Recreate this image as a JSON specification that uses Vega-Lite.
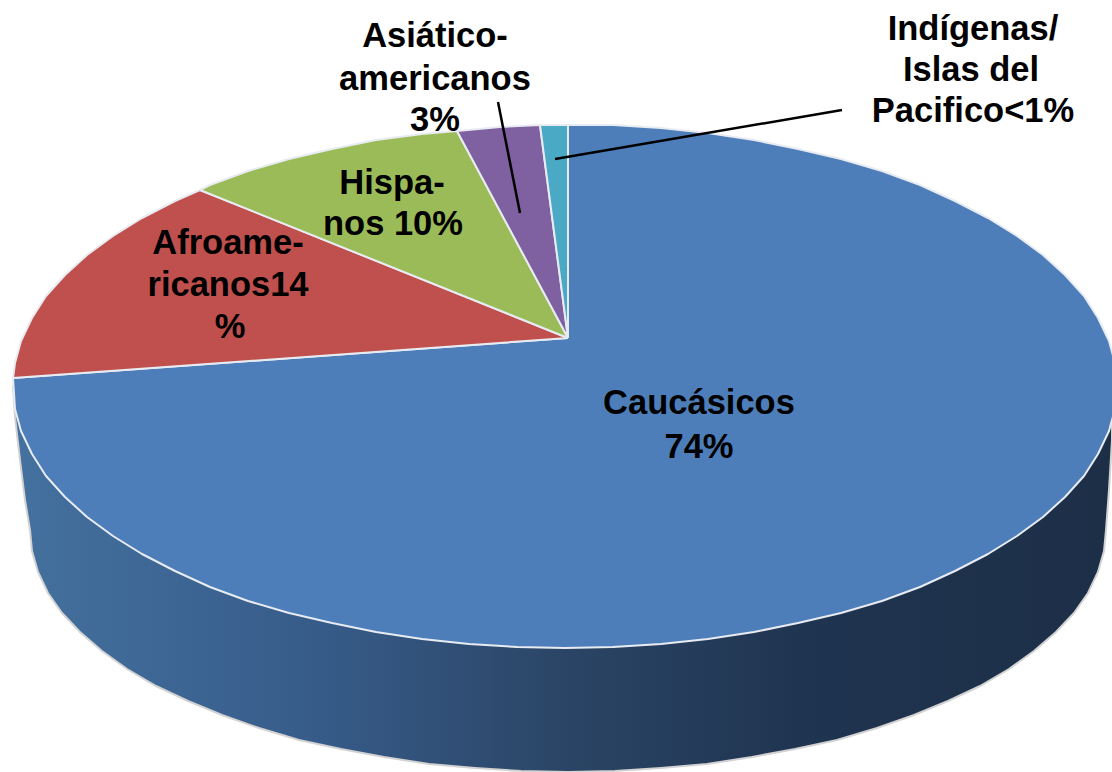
{"$schema":"https://vega.github.io/schema/vega-lite/v6.json","width":1112,"height":772,"padding":0,"autosize":{"type":"none"},"background":"white","config":{"view":{"stroke":null}},
"layer":[
{"data":{"name":"side","values":[{"x":13,"y":386},{"x":15,"y":417},{"x":20,"y":460},{"x":25,"y":500},{"x":30,"y":530},{"x":32,"y":551},{"x":38,"y":572},{"x":48,"y":593},{"x":62,"y":613},{"x":80,"y":632},{"x":102,"y":651},{"x":127,"y":669},{"x":156,"y":686},{"x":188,"y":701},{"x":222,"y":715},{"x":259,"y":728},{"x":299,"y":740},{"x":341,"y":749},{"x":384,"y":757},{"x":429,"y":764},{"x":475,"y":768},{"x":521,"y":771},{"x":568,"y":772},{"x":615,"y":771},{"x":661,"y":768},{"x":707,"y":764},{"x":752,"y":757},{"x":795,"y":749},{"x":837,"y":740},{"x":877,"y":728},{"x":914,"y":715},{"x":948,"y":701},{"x":980,"y":686},{"x":1009,"y":669},{"x":1034,"y":651},{"x":1056,"y":632},{"x":1074,"y":613},{"x":1088,"y":593},{"x":1098,"y":572},{"x":1104,"y":551},{"x":1106,"y":530},{"x":1109,"y":490},{"x":1112,"y":440}]},
"mark":{"type":"area","orient":"vertical","clip":true,"stroke":"#d2d2d2","strokeWidth":2,"color":{"gradient":"linear","x1":0,"x2":1,"y1":0,"y2":0,"stops":[{"offset":0,"color":"#44719f"},{"offset":0.27,"color":"#375c8a"},{"offset":0.5,"color":"#2b4566"},{"offset":0.72,"color":"#1f3450"},{"offset":1,"color":"#1d2f47"}]}},
"encoding":{"x":{"field":"x","type":"quantitative","scale":{"domain":[0,1112]},"axis":null},"y":{"field":"y","type":"quantitative","scale":{"domain":[772,0]},"axis":null},"y2":{"datum":386}}},
{"data":{"name":"slices","values":[
{"s":"Caucásicos","x":568,"y":338},{"s":"Caucásicos","x":568,"y":125},{"s":"Caucásicos","x":613,"y":125},{"s":"Caucásicos","x":661,"y":128},{"s":"Caucásicos","x":708,"y":133},{"s":"Caucásicos","x":754,"y":140},{"s":"Caucásicos","x":798,"y":149},{"s":"Caucásicos","x":841,"y":159},{"s":"Caucásicos","x":882,"y":171},{"s":"Caucásicos","x":920,"y":185},{"s":"Caucásicos","x":955,"y":201},{"s":"Caucásicos","x":988,"y":218},{"s":"Caucásicos","x":1017,"y":236},{"s":"Caucásicos","x":1043,"y":255},{"s":"Caucásicos","x":1065,"y":275},{"s":"Caucásicos","x":1084,"y":296},{"s":"Caucásicos","x":1098,"y":318},{"s":"Caucásicos","x":1109,"y":341},{"s":"Caucásicos","x":1115,"y":363},{"s":"Caucásicos","x":1117,"y":386},{"s":"Caucásicos","x":1115,"y":409},{"s":"Caucásicos","x":1109,"y":431},{"s":"Caucásicos","x":1098,"y":454},{"s":"Caucásicos","x":1084,"y":476},{"s":"Caucásicos","x":1065,"y":497},{"s":"Caucásicos","x":1043,"y":517},{"s":"Caucásicos","x":1017,"y":536},{"s":"Caucásicos","x":988,"y":554},{"s":"Caucásicos","x":955,"y":571},{"s":"Caucásicos","x":920,"y":587},{"s":"Caucásicos","x":882,"y":601},{"s":"Caucásicos","x":841,"y":613},{"s":"Caucásicos","x":798,"y":623},{"s":"Caucásicos","x":754,"y":632},{"s":"Caucásicos","x":708,"y":639},{"s":"Caucásicos","x":661,"y":644},{"s":"Caucásicos","x":613,"y":647},{"s":"Caucásicos","x":565,"y":648},{"s":"Caucásicos","x":517,"y":647},{"s":"Caucásicos","x":469,"y":644},{"s":"Caucásicos","x":422,"y":639},{"s":"Caucásicos","x":376,"y":632},{"s":"Caucásicos","x":332,"y":623},{"s":"Caucásicos","x":289,"y":613},{"s":"Caucásicos","x":248,"y":601},{"s":"Caucásicos","x":210,"y":587},{"s":"Caucásicos","x":175,"y":571},{"s":"Caucásicos","x":142,"y":554},{"s":"Caucásicos","x":113,"y":536},{"s":"Caucásicos","x":87,"y":517},{"s":"Caucásicos","x":65,"y":497},{"s":"Caucásicos","x":46,"y":476},{"s":"Caucásicos","x":32,"y":454},{"s":"Caucásicos","x":21,"y":431},{"s":"Caucásicos","x":15,"y":409},{"s":"Caucásicos","x":13,"y":378},{"s":"Caucásicos","x":568,"y":338},
{"s":"Afroamericanos","x":568,"y":338},{"s":"Afroamericanos","x":13,"y":378},{"s":"Afroamericanos","x":15,"y":363},{"s":"Afroamericanos","x":21,"y":341},{"s":"Afroamericanos","x":32,"y":318},{"s":"Afroamericanos","x":46,"y":296},{"s":"Afroamericanos","x":65,"y":275},{"s":"Afroamericanos","x":87,"y":255},{"s":"Afroamericanos","x":113,"y":236},{"s":"Afroamericanos","x":142,"y":218},{"s":"Afroamericanos","x":175,"y":201},{"s":"Afroamericanos","x":200,"y":190},{"s":"Afroamericanos","x":568,"y":338},
{"s":"Hispanos","x":568,"y":338},{"s":"Hispanos","x":200,"y":190},{"s":"Hispanos","x":210,"y":185},{"s":"Hispanos","x":248,"y":171},{"s":"Hispanos","x":289,"y":159},{"s":"Hispanos","x":332,"y":149},{"s":"Hispanos","x":376,"y":140},{"s":"Hispanos","x":422,"y":134},{"s":"Hispanos","x":457,"y":131},{"s":"Hispanos","x":568,"y":338},
{"s":"Asiático-americanos","x":568,"y":338},{"s":"Asiático-americanos","x":457,"y":131},{"s":"Asiático-americanos","x":500,"y":127},{"s":"Asiático-americanos","x":540,"y":125},{"s":"Asiático-americanos","x":568,"y":338},
{"s":"Indígenas/Islas del Pacifico","x":568,"y":338},{"s":"Indígenas/Islas del Pacifico","x":540,"y":125},{"s":"Indígenas/Islas del Pacifico","x":568,"y":125},{"s":"Indígenas/Islas del Pacifico","x":568,"y":338}
]},
"transform":[{"window":[{"op":"row_number","as":"ord"}]}],
"mark":{"type":"line","clip":true,"stroke":"#e8ecf2","strokeWidth":2,"strokeJoin":"round"},
"encoding":{"x":{"field":"x","type":"quantitative","scale":{"domain":[0,1112]},"axis":null},"y":{"field":"y","type":"quantitative","scale":{"domain":[772,0]},"axis":null},"order":{"field":"ord","type":"quantitative"},"detail":{"field":"s"},"fill":{"field":"s","type":"nominal","legend":null,"scale":{"domain":["Caucásicos","Afroamericanos","Hispanos","Asiático-americanos","Indígenas/Islas del Pacifico"],"range":["#4d7eb9","#bf504d","#9bbb59","#7f60a0","#4aa9c5"]}}}},
{"data":{"name":"leaders","values":[{"x":498,"y":102,"x2":520,"y2":213},{"x":842,"y":110,"x2":555,"y2":159}]},
"mark":{"type":"rule","color":"#000000","strokeWidth":2.5},
"encoding":{"x":{"field":"x","type":"quantitative","scale":{"domain":[0,1112]},"axis":null},"y":{"field":"y","type":"quantitative","scale":{"domain":[772,0]},"axis":null},"x2":{"field":"x2"},"y2":{"field":"y2"}}},
{"data":{"name":"labels","values":[
{"t":"Asiático-","x":435,"y":37},{"t":"americanos","x":435,"y":80},{"t":"3%","x":435,"y":121},
{"t":"Indígenas/","x":973,"y":30},{"t":"Islas del","x":971,"y":71},{"t":"Pacifico<1%","x":973,"y":112},
{"t":"Hispa-","x":392,"y":184},{"t":"nos 10%","x":393,"y":225},
{"t":"Afroame-","x":228,"y":244},{"t":"ricanos14","x":228,"y":286},{"t":"%","x":230,"y":328},
{"t":"Caucásicos","x":699,"y":404},{"t":"74%","x":699,"y":448}]},
"mark":{"type":"text","font":"Liberation Sans","fontWeight":"bold","fontSize":34.5,"color":"#000000","align":"center","baseline":"middle"},
"encoding":{"x":{"field":"x","type":"quantitative","scale":{"domain":[0,1112]},"axis":null},"y":{"field":"y","type":"quantitative","scale":{"domain":[772,0]},"axis":null},"text":{"field":"t"}}}
]}
